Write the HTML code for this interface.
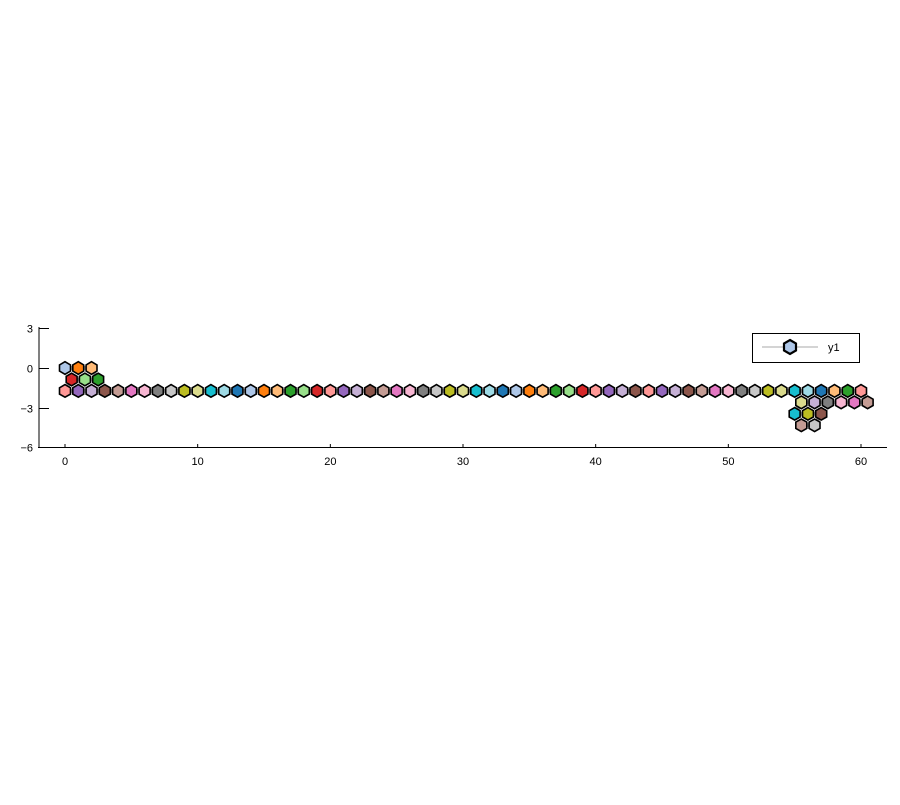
<!DOCTYPE html>
<html><head><meta charset="utf-8"><style>
body{margin:0;background:#fff;font-family:"Liberation Sans",sans-serif}
svg text{font-family:"Liberation Sans",sans-serif;font-size:11px;fill:#000}
</style></head><body>
<svg width="900" height="800">
<g id="axes"></g>
<g id="marks"></g>
<g>
<rect x="752.5" y="333.5" width="107" height="29" fill="#fff" stroke="#000" stroke-width="1"/>
<line x1="762" y1="347" x2="818" y2="347" stroke="#aaa" stroke-width="1"/>
<polygon points="790,340 796,343.5 796,350.5 790,354 784,350.5 784,343.5" fill="#aec7e8" stroke="#000" stroke-width="2.2"/>
<text x="828" y="351">y1</text>
</g>
</svg>
<script>
const palette=["#1f77b4","#aec7e8","#ff7f0e","#ffbb78","#2ca02c","#98df8a","#d62728","#ff9896","#9467bd","#c5b0d5","#8c564b","#c49c94","#e377c2","#f7b6d2","#7f7f7f","#c7c7c7","#bcbd22","#dbdb8d","#17becf","#9edae5"];
const xTicks=[0,10,20,30,40,50,60];
const yTicks=[3,0,-3,-6];
const h=0.866;
const xs=[0,1,2,2.5,1.5,0.5];
const ys=[0,0,0,-h,-h,-h];
const cols=["#aec7e8","#ff7f0e","#ffbb78","#2ca02c","#98df8a","#d62728"];
const rowTailCols=["#98df8a","#d62728","#ff9896","#9467bd","#c5b0d5","#8c564b","#ff9896","#9467bd","#c5b0d5","#8c564b","#c49c94","#e377c2","#f7b6d2","#7f7f7f","#c7c7c7","#bcbd22","#dbdb8d","#17becf","#9edae5","#1f77b4","#ffbb78","#2ca02c","#ff9896"];
for(let x=0;x<=60;x++){xs.push(x);ys.push(-2*h);cols.push(x>=38?rowTailCols[x-38]:palette[(7+x)%20]);}
const tailX=[60.5,59.5,58.5,57.5,56.5,55.5,55,56,57,56.5,55.5];
const tailY=[-3*h,-3*h,-3*h,-3*h,-3*h,-3*h,-4*h,-4*h,-4*h,-5*h,-5*h];
const tailC=["#c49c94","#e377c2","#f7b6d2","#7f7f7f","#c5b0d5","#dbdb8d","#17becf","#bcbd22","#8c564b","#c7c7c7","#c49c94"];
for(let i=0;i<tailX.length;i++){xs.push(tailX[i]);ys.push(tailY[i]);cols.push(tailC[i]);}

const X=v=>65+(v-0)*(861-65)/60;
const Y=v=>368-v*(447-328)/9;
const NS="http://www.w3.org/2000/svg";
const ax=document.getElementById('axes'),mk=document.getElementById('marks');
function el(t,a,p){const e=document.createElementNS(NS,t);for(const k in a)e.setAttribute(k,a[k]);p.appendChild(e);return e;}
let e=el('line',{x1:39,y1:327,x2:39,y2:448,stroke:'#000','stroke-width':1},ax);


e=el('line',{x1:38,y1:447.5,x2:887,y2:447.5,stroke:'#000','stroke-width':1},ax);


yTicks.forEach(t=>{const y=Math.round(Y(t))+0.5;
 el('line',{x1:39,y1:y,x2:49,y2:y,stroke:'#000'},ax);
 const tx=el('text',{x:33,y:y+4,'text-anchor':'end'},ax);tx.textContent=(t<0?'\u2212'+(-t):t);
 
 });
xTicks.forEach(t=>{const x=X(t);
 el('line',{x1:x,y1:447,x2:x,y2:444,stroke:'#000'},ax);
 const tx=el('text',{x:x,y:465,'text-anchor':'middle'},ax);tx.textContent=t;
 
 });
let d='';xs.forEach((x,i)=>{d+=(i?'L':'M')+X(x)+' '+Y(ys[i]);});
e=el('path',{d:d,fill:'none',stroke:'#999','stroke-width':4,'stroke-linejoin':'round'},mk);


xs.forEach((x,i)=>{const cx=X(x),cy=Y(ys[i]),r=6.3;
 let p=[];for(let k=0;k<6;k++){const a=Math.PI/2+k*Math.PI/3;p.push((cx+r*Math.cos(a)).toFixed(1)+','+(cy+r*Math.sin(a)).toFixed(1));}
 const g=el('polygon',{points:p.join(' '),fill:cols[i],stroke:'#000','stroke-width':1.6},mk);
 
 });
</script>
</body></html>
